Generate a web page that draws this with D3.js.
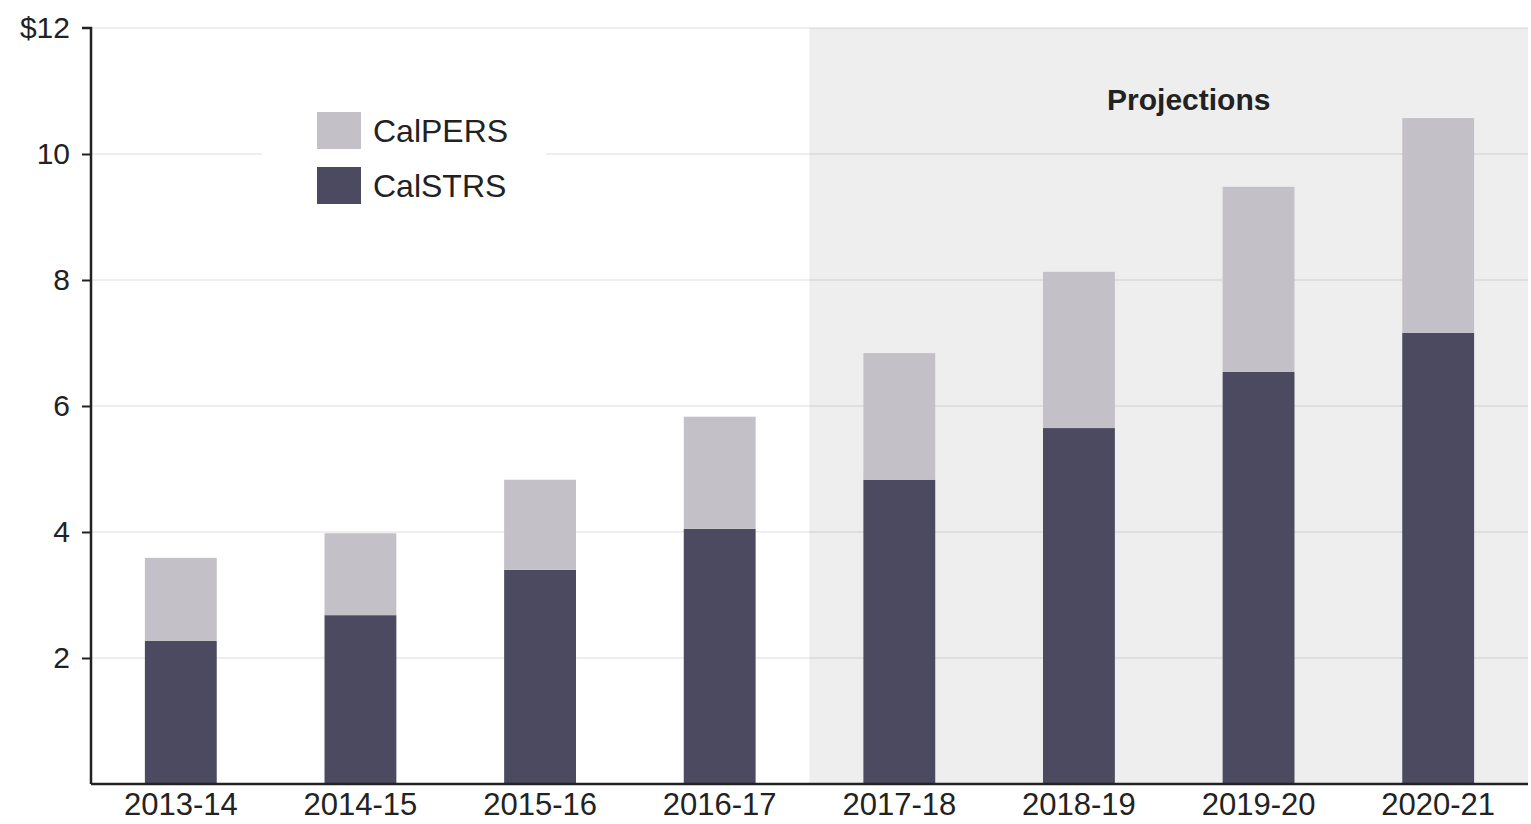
<!DOCTYPE html>
<html>
<head>
<meta charset="utf-8">
<script src="https://cdn.jsdelivr.net/npm/d3@7"></script>
<style>
  html, body { margin: 0; padding: 0; background: #fff; }
  svg { display: block; }
  text { font-family: "Liberation Sans", Arial, Helvetica, sans-serif; fill: #222; }
</style>
</head>
<body>
<svg id="chart" width="1531" height="824"></svg>
<script>
const years = ["2013-14", "2014-15", "2015-16", "2016-17", "2017-18", "2018-19", "2019-20", "2020-21"];
const calSTRS = [2.27, 2.68, 3.40, 4.05, 4.83, 5.65, 6.54, 7.16];
const calPERS = [1.32, 1.30, 1.43, 1.78, 2.01, 2.48, 2.94, 3.41];
const seriesNames = ["CalSTRS", "CalPERS"];
const yTicks = [2, 4, 6, 8, 10, 12];
const projectionStart = "2017-18";
const colors = { CalSTRS: "#4b4a60", CalPERS: "#c4c0c8" };

const svg = d3.select("#chart");
const mLeft = 91, mRight = 1528, mTop = 28, mBottom = 784;

const x = d3.scaleBand().domain(years).range([mLeft, mRight]).paddingInner(0.6).paddingOuter(0.3);
const y = d3.scaleLinear().domain([0, 12]).range([mBottom, mTop]);

// projection shading
const shadeX = x(projectionStart) - x.step() * x.paddingInner() / 2;
svg.append("rect")
  .attr("x", shadeX).attr("y", y(12))
  .attr("width", mRight - shadeX).attr("height", y(0) - y(12))
  .attr("fill", "#eeeeee");

// gridlines
svg.append("g").selectAll("line").data(yTicks).join("line")
  .attr("x1", mLeft).attr("x2", mRight)
  .attr("y1", d => y(d)).attr("y2", d => y(d))
  .attr("stroke", "rgba(0,0,0,0.065)").attr("stroke-width", 2);

// legend background (hides gridline)
svg.append("rect").attr("x", 262).attr("y", 95).attr("width", 284).attr("height", 125).attr("fill", "#fff");

// stacked bars
const table = years.map((yr, i) => ({ year: yr, CalSTRS: calSTRS[i], CalPERS: calPERS[i] }));
const stack = d3.stack().keys(seriesNames)(table);
svg.append("g").selectAll("g").data(stack).join("g")
  .attr("fill", d => colors[d.key])
  .selectAll("rect").data(d => d).join("rect")
  .attr("x", d => x(d.data.year))
  .attr("width", x.bandwidth())
  .attr("y", d => y(d[1]))
  .attr("height", d => y(d[0]) - y(d[1]));

// y axis
const yAxis = d3.axisLeft(y).tickValues(yTicks)
  .tickFormat(d => d === 12 ? "$12" : d)
  .tickSize(9).tickPadding(12);
const gy = svg.append("g").attr("transform", `translate(${mLeft},0)`).call(yAxis);
gy.select(".domain").attr("stroke", "#222").attr("stroke-width", 2.5)
  .attr("d", `M${-9},${y(12)}H0V${y(0)}`);
gy.selectAll(".tick line").attr("stroke", "#222").attr("stroke-width", 2);
gy.selectAll(".tick text").attr("font-size", 30).attr("fill", "#222")
  .attr("font-family", "Liberation Sans, Arial, sans-serif");
gy.selectAll(".tick").filter(d => d === 12).select("line").remove();

// x axis
const xAxis = d3.axisBottom(x).tickSize(0).tickPadding(9);
const gx = svg.append("g").attr("transform", `translate(0,${mBottom})`).call(xAxis);
gx.select(".domain").attr("stroke", "#222").attr("stroke-width", 2.5).attr("d", `M${mLeft},0H${mRight}`);
gx.selectAll(".tick text").attr("font-size", 31).attr("fill", "#222")
  .attr("font-family", "Liberation Sans, Arial, sans-serif");

// legend
const legendItems = ["CalPERS", "CalSTRS"];
const lg = svg.append("g");
legendItems.forEach((name, i) => {
  const yy = 112 + i * 55;
  lg.append("rect").attr("x", 317).attr("y", yy).attr("width", 44).attr("height", 37).attr("fill", colors[name]);
  lg.append("text").attr("x", 373).attr("y", yy + 30).attr("font-size", 32).text(name);
});

// projections label
svg.append("text")
  .attr("x", (shadeX + mRight) / 2 + 20).attr("y", 110)
  .attr("text-anchor", "middle").attr("font-size", 30).attr("font-weight", "bold")
  .text("Projections");
</script>
</body>
</html>
